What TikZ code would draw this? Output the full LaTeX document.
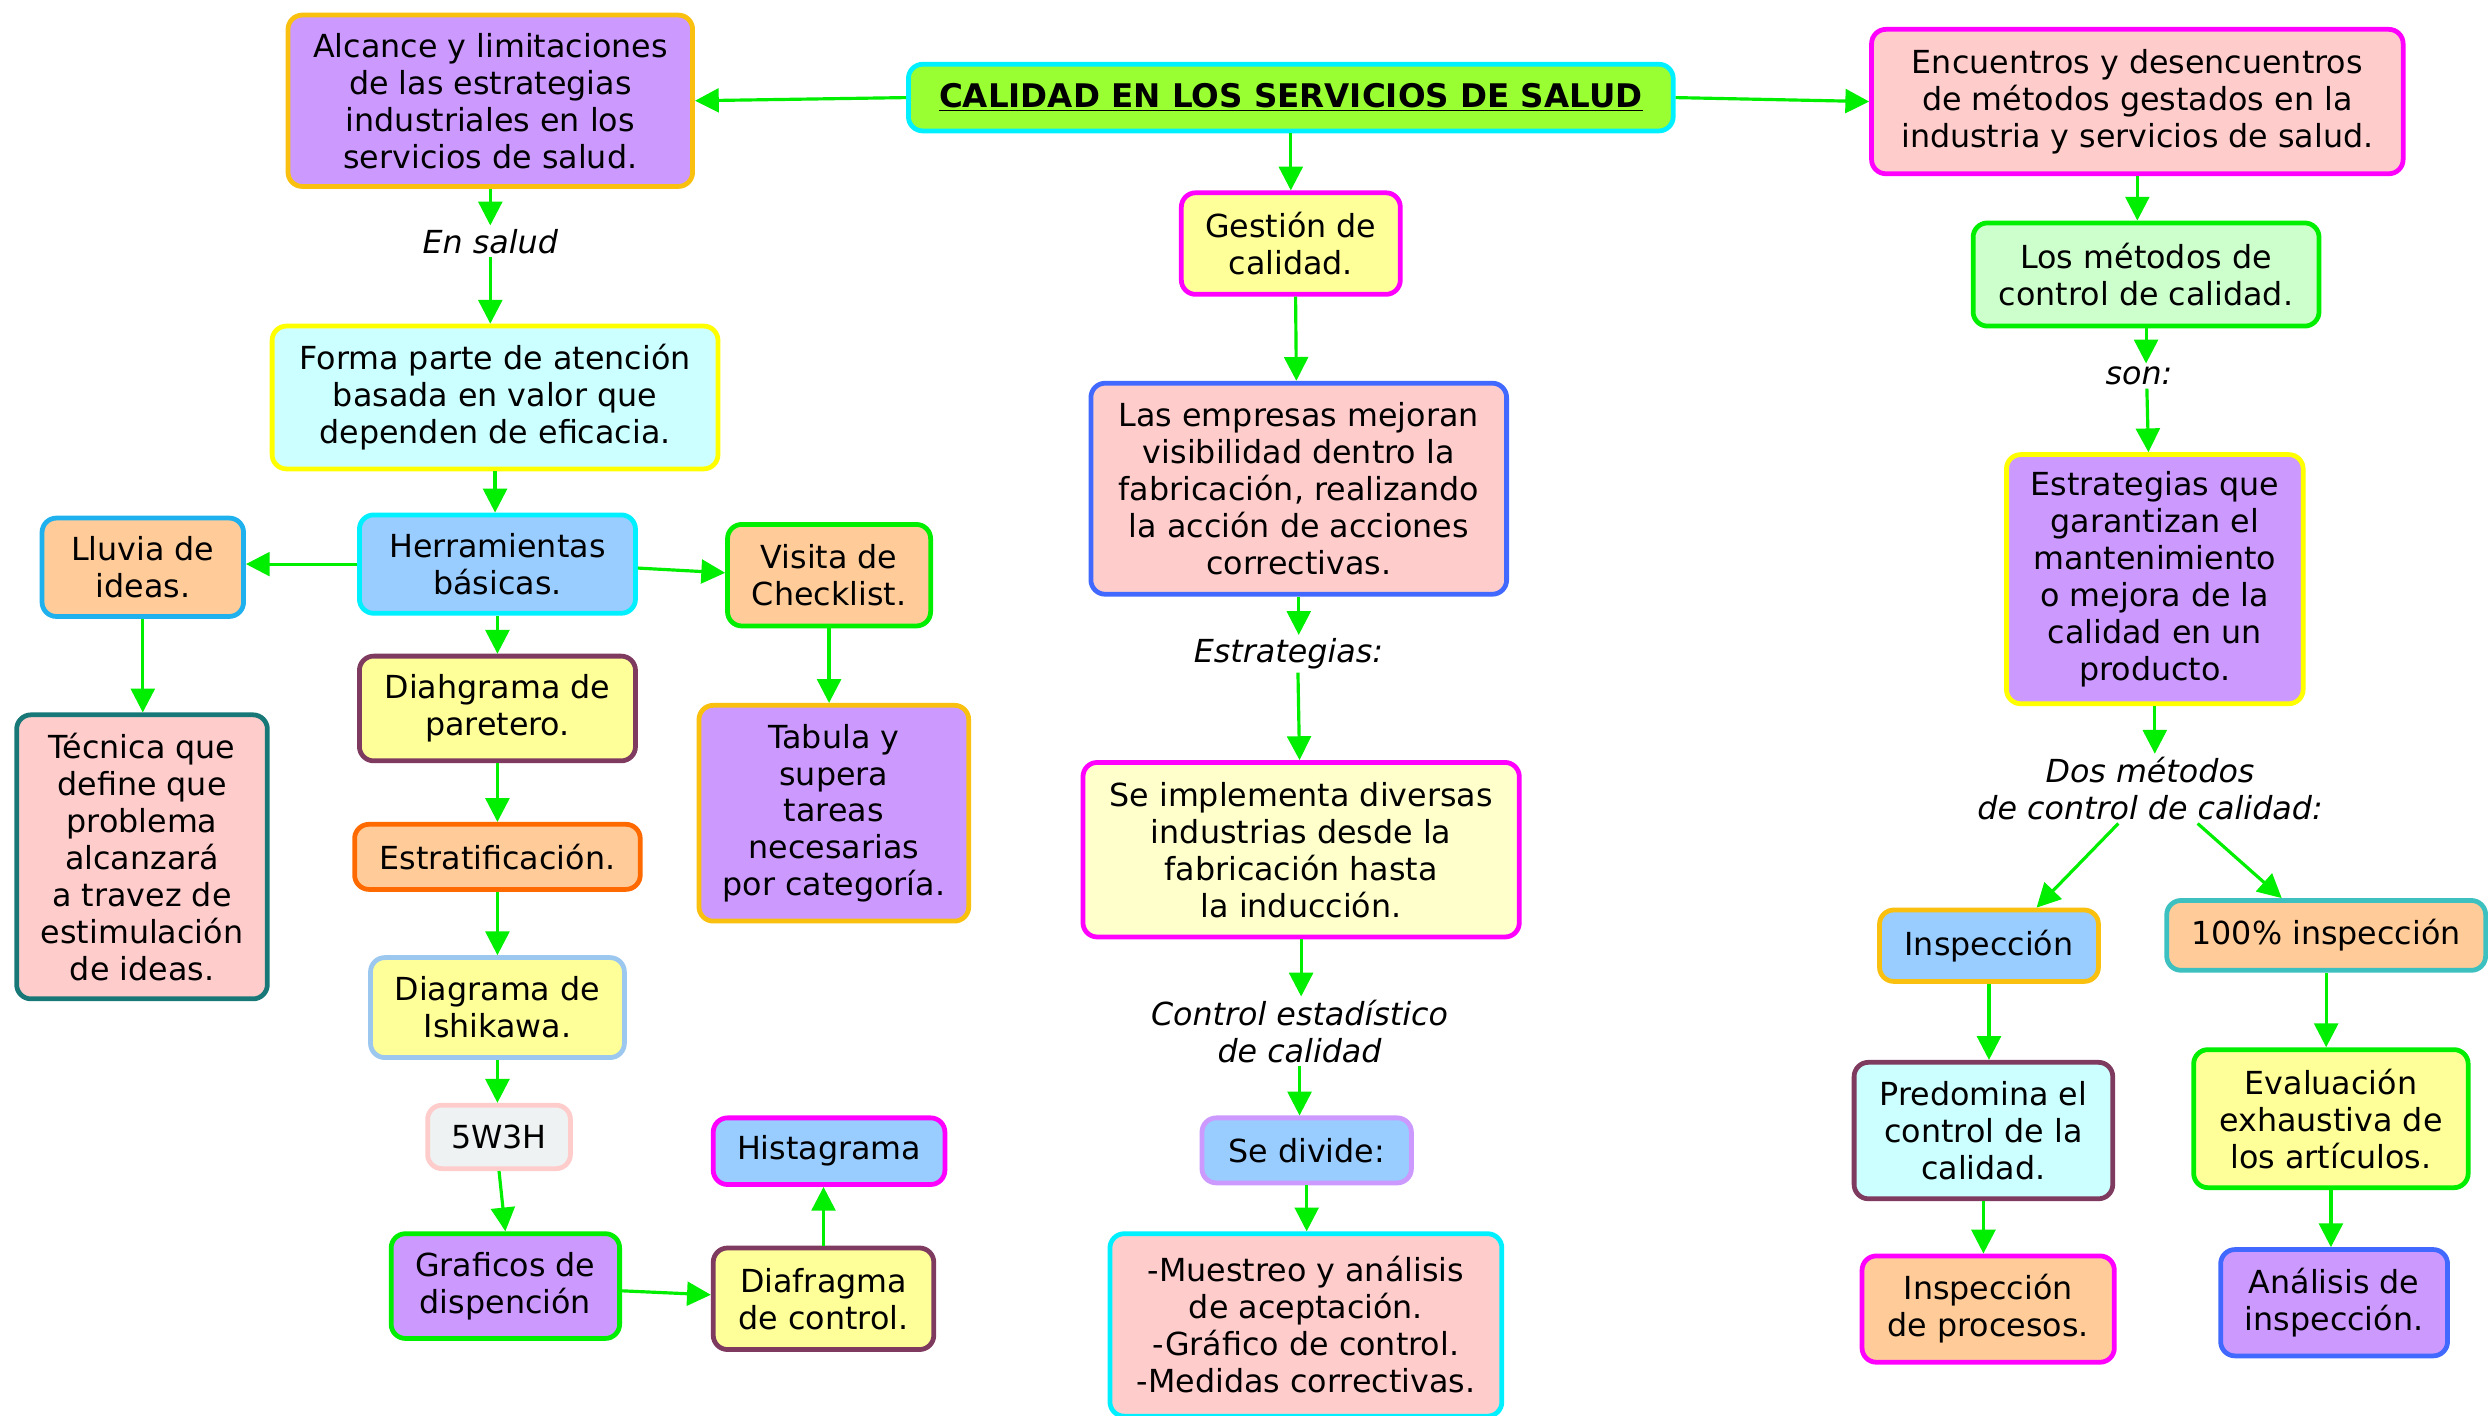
\documentclass[tikz,border=0pt]{standalone}
\usepackage{fontspec}
\setmainfont{DejaVu Sans}
\usetikzlibrary{arrows.meta}
\definecolor{cPurple}{HTML}{CC99FF}
\definecolor{cLCyan}{HTML}{CCFFFF}
\definecolor{cBlue}{HTML}{99CCFF}
\definecolor{cPeach}{HTML}{FFCC99}
\definecolor{cPink}{HTML}{FFCCCC}
\definecolor{cYel}{HTML}{FFFF99}
\definecolor{cLYel}{HTML}{FFFFCC}
\definecolor{cLGreen}{HTML}{CCFFCC}
\definecolor{cLime}{HTML}{99FF33}
\definecolor{cGrey}{HTML}{EEF2F2}
\definecolor{bGold}{HTML}{F9C00F}
\definecolor{bYellow}{HTML}{FFFF00}
\definecolor{bCyan}{HTML}{00F0FF}
\definecolor{bSky}{HTML}{1FB0EE}
\definecolor{bGreen}{HTML}{00EE00}
\definecolor{bTeal}{HTML}{187878}
\definecolor{bMaroon}{HTML}{7F3B5F}
\definecolor{bOrange}{HTML}{FF6A00}
\definecolor{bLBlue}{HTML}{9CC8F0}
\definecolor{bPink}{HTML}{FFCCCC}
\definecolor{bMagenta}{HTML}{FF00FF}
\definecolor{bBlue}{HTML}{4169FF}
\definecolor{bLav}{HTML}{CC99FF}
\definecolor{bTeal2}{HTML}{3CC0C0}
\definecolor{arrowgreen}{HTML}{00EE00}
\begin{document}
\begin{tikzpicture}[x=1pt,y=-1pt,
  box/.style={rounded corners=9pt, line width=3pt, align=center, inner sep=2pt,
    font=\fontsize{20}{23.3}\selectfont},
  lbl/.style={align=center, inner sep=2pt, font=\fontsize{20}{23.3}\selectfont\itshape},
  con/.style={draw=arrowgreen, line width=2pt, -{Triangle[length=15pt,width=15pt]}}]
\useasboundingbox[fill=white] (0,0) rectangle (1568,892);

% ---- title
\node[box, fill=cLime, draw=bCyan, minimum width=482, minimum height=42,
  font=\fontsize{20.5}{24}\selectfont\bfseries] (title) at (813.5,61.5)
  {\underline{CALIDAD EN LOS SERVICIOS DE SALUD}};

% ---- left branch
\node[box, fill=cPurple, draw=bGold, minimum width=255, minimum height=108] (A1) at (309,63.5)
  {Alcance y limitaciones\\de las estrategias\\industriales en los\\servicios de salud.};
\node[lbl] (ensalud) at (309,152) {En salud};
\node[box, fill=cLCyan, draw=bYellow, minimum width=281, minimum height=90] (A2) at (312,250.5)
  {Forma parte de atención\\basada en valor que\\dependen de eficacia.};
\node[box, fill=cBlue, draw=bCyan, minimum width=174, minimum height=62] (herr) at (313.5,355.5)
  {Herramientas\\básicas.};
\node[box, fill=cPeach, draw=bSky, minimum width=127, minimum height=62] (lluvia) at (90,357.5)
  {Lluvia de\\ideas.};
\node[box, fill=cPeach, draw=bGreen, minimum width=128, minimum height=64] (visita) at (522.5,362.5)
  {Visita de\\Checklist.};
\node[box, fill=cPink, draw=bTeal, minimum width=158, minimum height=179] (tecnica) at (89.5,540)
  {Técnica que\\define que\\problema\\alcanzará\\a travez de\\estimulación\\de ideas.};
\node[box, fill=cYel, draw=bMaroon, minimum width=174, minimum height=66] (diah) at (313.5,446.5)
  {Diahgrama de\\paretero.};
\node[box, fill=cPurple, draw=bGold, minimum width=170, minimum height=136] (tabula) at (525.5,512.5)
  {Tabula y\\supera\\tareas\\necesarias\\por categoría.};
\node[box, fill=cPeach, draw=bOrange, minimum width=180, minimum height=41] (estrat) at (313.5,540)
  {Estratificación.};
\node[box, fill=cYel, draw=bLBlue, minimum width=160, minimum height=63] (ishi) at (313.5,635)
  {Diagrama de\\Ishikawa.};
\node[box, fill=cGrey, draw=bPink, minimum width=90, minimum height=40] (w5) at (314.5,716.5)
  {5W3H};
\node[box, fill=cPurple, draw=bGreen, minimum width=144, minimum height=66] (graf) at (318.5,810.5)
  {Graficos de\\dispención};
\node[box, fill=cBlue, draw=bMagenta, minimum width=146, minimum height=42] (hist) at (522.5,725.5)
  {Histagrama};
\node[box, fill=cYel, draw=bMaroon, minimum width=139, minimum height=64] (diaf) at (519,818.5)
  {Diafragma\\de control.};

% ---- centre branch
\node[box, fill=cYel, draw=bMagenta, minimum width=138, minimum height=64] (gest) at (813.5,153.5)
  {Gestión de\\calidad.};
\node[box, fill=cPink, draw=bBlue, minimum width=262, minimum height=133] (empr) at (818.5,308)
  {Las empresas mejoran\\visibilidad dentro la\\fabricación, realizando\\la acción de acciones\\correctivas.};
\node[lbl] (estrlbl) at (812,412) {Estrategias:};
\node[box, fill=cLYel, draw=bMagenta, minimum width=275, minimum height=110] (impl) at (820,535.5)
  {Se implementa diversas\\industrias desde la\\fabricación hasta\\la inducción.};
\node[lbl] (ctrl) at (819,650) {Control estadístico\\de calidad};
\node[box, fill=cBlue, draw=bLav, minimum width=132, minimum height=41] (divide) at (823.5,725)
  {Se divide:};
\node[box, fill=cPink, draw=bCyan, minimum width=247, minimum height=115] (muest) at (823,835)
  {-Muestreo y análisis\\de aceptación.\\-Gráfico de control.\\-Medidas correctivas.};

% ---- right branch
\node[box, fill=cPink, draw=bMagenta, minimum width=335, minimum height=91] (encu) at (1347,64)
  {Encuentros y desencuentros\\de métodos gestados en la\\industria y servicios de salud.};
\node[box, fill=cLGreen, draw=bGreen, minimum width=218, minimum height=65] (metodos) at (1352.5,173)
  {Los métodos de\\control de calidad.};
\node[lbl] (son) at (1348,237) {son:};
\node[box, fill=cPurple, draw=bYellow, minimum width=187, minimum height=157] (estq) at (1358,365)
  {Estrategias que\\garantizan el\\mantenimiento\\o mejora de la\\calidad en un\\producto.};
\node[lbl] (dos) at (1355,497) {Dos métodos\\de control de calidad:};
\node[box, fill=cBlue, draw=bGold, minimum width=138, minimum height=45] (insp) at (1253.5,596)
  {Inspección};
\node[box, fill=cPeach, draw=bTeal2, minimum width=201, minimum height=44] (cien) at (1466,589.5)
  {100\% inspección};
\node[box, fill=cLCyan, draw=bMaroon, minimum width=163, minimum height=86] (pred) at (1250,712.5)
  {Predomina el\\control de la\\calidad.};
\node[box, fill=cYel, draw=bGreen, minimum width=173, minimum height=87] (eval) at (1469,705)
  {Evaluación\\exhaustiva de\\los artículos.};
\node[box, fill=cPeach, draw=bMagenta, minimum width=159, minimum height=67] (proc) at (1253,825)
  {Inspección\\de procesos.};
\node[box, fill=cPurple, draw=bBlue, minimum width=143, minimum height=67] (anal) at (1471,821)
  {Análisis de\\inspección.};

% ---- connectors
\draw[con] (title.west) -- (A1.east);
\draw[con] (title.east) -- (encu.west);
\draw[con] (title.south) -- (title.south |- gest.north);
\draw[con] (A1.south) -- (A1.south |- ensalud.north);
\draw[con] (ensalud.south) -- (ensalud.south |- A2.north);
\draw[con] (A2.south) -- (A2.south |- herr.north);
\draw[con] (herr.west) -- (herr.west -| lluvia.east);
\draw[con] ([yshift=-2.5pt]herr.east) -- ([yshift=1.5pt]visita.west);
\draw[con] (herr.south) -- (herr.south |- diah.north);
\draw[con] (lluvia.south) -- (lluvia.south |- tecnica.north);
\draw[con] (visita.south) -- (visita.south |- tabula.north);
\draw[con] (diah.south) -- (diah.south |- estrat.north);
\draw[con] (estrat.south) -- (estrat.south |- ishi.north);
\draw[con] (ishi.south) -- (ishi.south |- w5.north);
\draw[con] (w5.south) -- (graf.north);
\draw[con] ([yshift=-3pt]graf.east) -- ([yshift=2.5pt]diaf.west);
\draw[con] (diaf.north) -- (diaf.north |- hist.south);
\draw[con] ([xshift=3pt]gest.south) -- ([xshift=-1.5pt]empr.north);
\draw[con] (empr.south) -- (empr.south |- estrlbl.north);
\draw[con] ([xshift=6pt]estrlbl.south) -- ([xshift=-1pt]impl.north);
\draw[con] (impl.south) -- (impl.south |- ctrl.north);
\draw[con] (ctrl.south) -- (ctrl.south |- divide.north);
\draw[con] (divide.south) -- (divide.south |- muest.north);
\draw[con] (encu.south) -- (encu.south |- metodos.north);
\draw[con] (metodos.south) -- (metodos.south |- son.north);
\draw[con] ([xshift=5pt]son.south) -- ([xshift=-4pt]estq.north);
\draw[con] (estq.south) -- (estq.south |- dos.north);
\draw[con] ([xshift=-20pt]dos.south) -- ([xshift=30pt]insp.north);
\draw[con] ([xshift=30pt]dos.south) -- ([xshift=-28pt]cien.north);
\draw[con] (insp.south) -- (insp.south |- pred.north);
\draw[con] (pred.south) -- (pred.south |- proc.north);
\draw[con] (cien.south) -- (cien.south |- eval.north);
\draw[con] (eval.south) -- (eval.south |- anal.north);
\end{tikzpicture}
\end{document}
